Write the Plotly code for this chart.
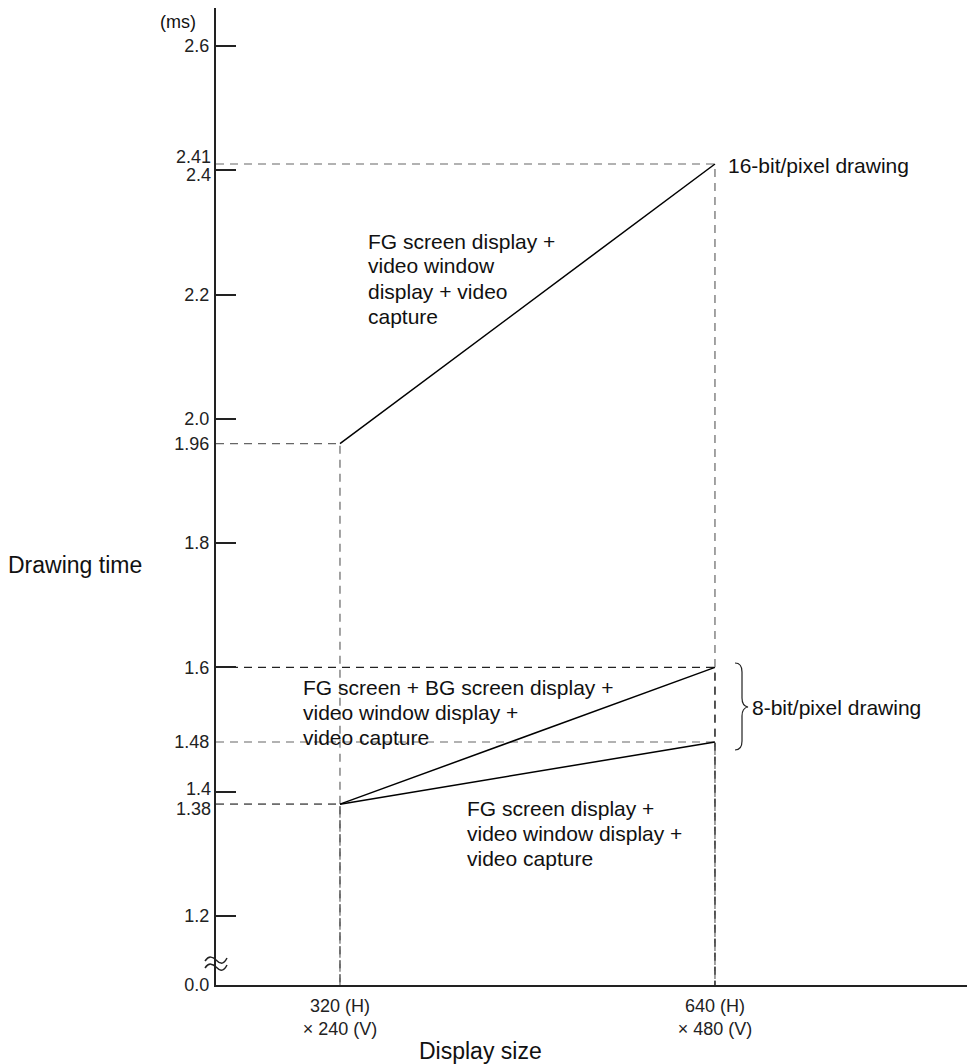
import plotly.graph_objects as go

# display sizes (horizontal pixels) and drawing times (ms)
sizes = [320, 640]
size_labels = ["320 (H)<br>× 240 (V)", "640 (H)<br>× 480 (V)"]
t_16bit = [1.96, 2.41]
t_8bit_fg_bg = [1.38, 1.60]
t_8bit_fg = [1.38, 1.48]

y_major = [1.2, 1.4, 1.6, 1.8, 2.0, 2.2, 2.4, 2.6]
y_marked = [1.38, 1.48, 1.96, 2.41]

# the page has an 8px body margin, so the figure is drawn 8px smaller
OFF = 8
W, H = 975 - OFF, 1064 - OFF
L, R, T, B = 208, 0, 0, 79
X_RANGE = [214.2, 861.9]
Y_RANGE = [1.089, 2.661]
FONT = "Liberation Sans, Arial, sans-serif"


def paper(px, py):
    # page pixels -> paper coordinates
    return ((px - OFF) - L) / (W - L - R), ((H - B) - (py - OFF)) / (H - B - T)


def fmt(q):
    x, y = paper(*q)
    return f"{x:.5f},{y:.5f}"


fig = go.Figure()

# dashed guides from the axes to each end point
for ys in (t_16bit, t_8bit_fg_bg, t_8bit_fg):
    for x, y in zip(sizes, ys):
        fig.add_trace(go.Scatter(
            x=[X_RANGE[0], x, x], y=[y, y, Y_RANGE[0]], mode="lines",
            line=dict(color="#222" if y == 1.6 else "#666", width=1.2, dash="8px,6px"),
            hoverinfo="skip", showlegend=False,
        ))

for ys in (t_16bit, t_8bit_fg_bg, t_8bit_fg):
    fig.add_trace(go.Scatter(
        x=sizes, y=ys, mode="lines",
        line=dict(color="black", width=1.5), showlegend=False,
    ))

# labels that crowd a neighbour get nudged apart, as in the original
nudged = {2.41: 7, 2.4: -5, 1.4: 3, 1.38: -5}
all_vals = y_major + y_marked
tickvals = [Y_RANGE[0]] + [v for v in all_vals if v not in nudged]
ticktext = ["0.0"] + [f"{v:.1f}" if v in y_major else f"{v:g}"
                      for v in all_vals if v not in nudged]

fig.update_yaxes(
    range=Y_RANGE, tickmode="array", tickvals=tickvals, ticktext=ticktext,
    ticks="", showgrid=False, zeroline=False,
    showline=True, linecolor="#222", linewidth=2,
    tickfont=dict(size=18, color="#222"), ticklabelstandoff=1,
    minor=dict(tickmode="array", tickvals=y_major, ticks="inside",
               ticklen=20, tickwidth=1.5, tickcolor="#222", showgrid=False),
)
for v, shift in nudged.items():
    fig.add_annotation(
        x=0, xref="paper", y=v, yref="y", yshift=shift, xshift=-3,
        text=f"{v:.1f}" if v in y_major else f"{v:g}", showarrow=False,
        xanchor="right", yanchor="middle", font=dict(size=18, color="#222"),
    )

fig.update_xaxes(
    range=X_RANGE, tickmode="array", tickvals=sizes, ticktext=size_labels,
    ticks="", showgrid=False, zeroline=False,
    showline=True, linecolor="#222", linewidth=2,
    tickfont=dict(size=18, color="#222"), ticklabelstandoff=3,
)


def text_block(lines, px, py, size=21, step=25, anchor="left"):
    for i, line in enumerate(lines):
        x, y = paper(px - (2 if anchor == "left" else 0), py + i * step)
        fig.add_annotation(
            x=x, y=y, xref="paper", yref="paper", text=line, showarrow=False,
            xanchor=anchor, yanchor="middle", font=dict(size=size, color="#111"),
        )


text_block(["FG screen display +", "video window", "display + video", "capture"], 368, 241)
text_block(["16-bit/pixel drawing"], 728, 165)
text_block(["FG screen + BG screen display +", "video window display +", "video capture"], 303, 687)
text_block(["8-bit/pixel drawing"], 752, 707)
text_block(["FG screen display +", "video window display +", "video capture"], 467, 808)
text_block(["(ms)"], 198, 22, size=18, anchor="right")
text_block(["Drawing time"], 8, 565, size=23)
text_block(["Display size"], 480, 1051, size=23, anchor="center")

# axis break mark: two small waves across the y axis
for dy in (0, 7):
    wave = [(205, 961 + dy), (209, 955 + dy), (213, 957 + dy), (216, 960 + dy),
            (223, 966 + dy), (227, 958 + dy)]
    path = (f"M {fmt(wave[0])} C {fmt(wave[1])} {fmt(wave[2])} {fmt(wave[3])} "
            f"S {fmt(wave[4])} {fmt(wave[5])}")
    fig.add_shape(type="path", path=path, xref="paper", yref="paper",
                  line=dict(color="#222", width=1.5))

# brace grouping the two 8-bit lines
pts = [(735, 663), (742, 663), (742, 672), (742, 698), (742, 706), (748, 707),
       (742, 708), (742, 716), (742, 741), (742, 750), (735, 750)]
f = [fmt(q) for q in pts]
path = (f"M {f[0]} Q {f[1]} {f[2]} L {f[3]} Q {f[4]} {f[5]} "
        f"Q {f[6]} {f[7]} L {f[8]} Q {f[9]} {f[10]}")
fig.add_shape(type="path", path=path, xref="paper", yref="paper",
              line=dict(color="#222", width=1.2))

fig.update_layout(
    width=W, height=H, autosize=False,
    margin=dict(l=L, r=R, t=T, b=B),
    plot_bgcolor="white", paper_bgcolor="white",
    font=dict(family=FONT, color="#222"),
)

fig.write_html("out.html")
